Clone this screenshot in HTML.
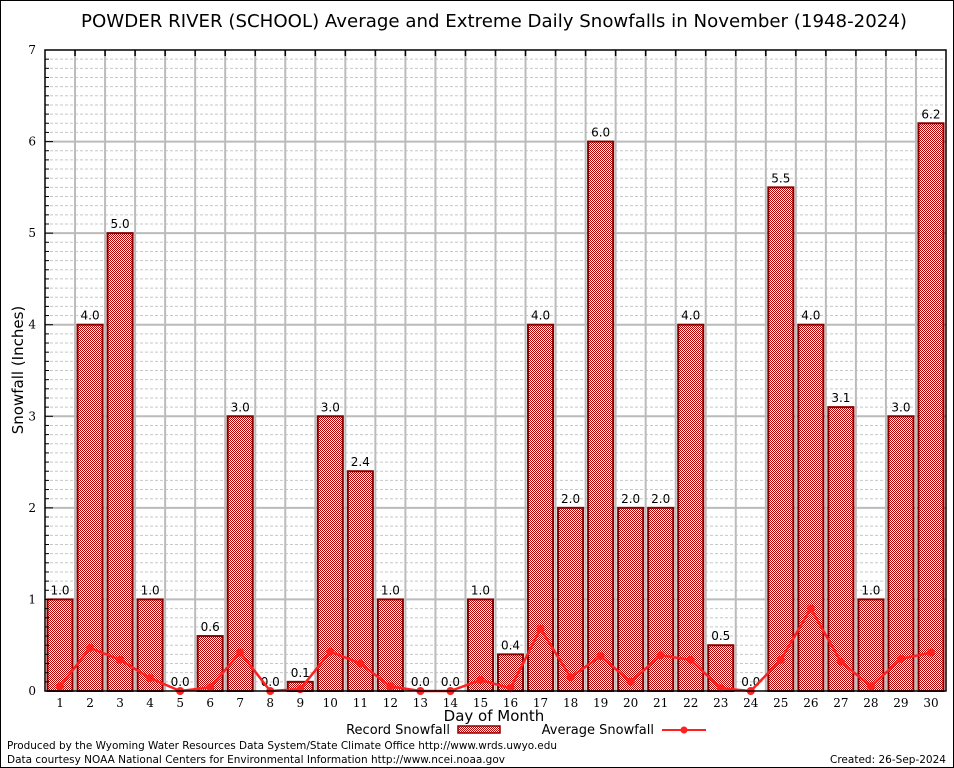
<!DOCTYPE html>
<html><head><meta charset="utf-8"><style>
html,body{margin:0;padding:0;background:#fff}
svg{display:block}
text{font-family:"DejaVu Sans","Liberation Sans",sans-serif}
.serif{font-family:"DejaVu Serif","Liberation Serif",serif}
</style></head><body>
<svg id="chart" width="954" height="768" viewBox="0 0 954 768">
<defs>
<pattern id="hatch" width="2" height="2" patternUnits="userSpaceOnUse">
<rect width="2" height="2" fill="#fff"/><rect width="1" height="1" fill="#b80000"/><rect x="1" y="1" width="1" height="1" fill="#b80000"/>
</pattern>
</defs>
<rect x="0.5" y="0.5" width="953" height="767" fill="#fff" stroke="#000"/>
<text x="494" y="27" font-size="18" text-anchor="middle" textLength="826" lengthAdjust="spacingAndGlyphs">POWDER RIVER (SCHOOL) Average and Extreme Daily Snowfalls in November (1948-2024)</text>
<g id="grid"></g>
<g id="bars"></g>
<g id="avg"></g>
<g id="axes"></g>
<text transform="translate(23,370) rotate(-90)" font-size="15" text-anchor="middle">Snowfall (Inches)</text>
<text x="494" y="721" font-size="15" text-anchor="middle">Day of Month</text>
<g>
<text x="450" y="734" font-size="13" text-anchor="end">Record Snowfall</text>
<rect x="458" y="726" width="42" height="7" fill="url(#hatch)" stroke="#8b0000" stroke-width="1.5"/>
<text x="654" y="734" font-size="13" text-anchor="end">Average Snowfall</text>
<line x1="662" y1="730" x2="706" y2="730" stroke="#ff2020" stroke-width="2"/>
<circle cx="684" cy="730" r="3.5" fill="#ff2020"/>
</g>
<text x="7" y="749" font-size="11" textLength="550" lengthAdjust="spacingAndGlyphs">Produced by the Wyoming Water Resources Data System/State Climate Office http://www.wrds.uwyo.edu</text>
<text x="7" y="763" font-size="11" textLength="498" lengthAdjust="spacingAndGlyphs">Data courtesy NOAA National Centers for Environmental Information http://www.ncei.noaa.gov</text>
<text x="946" y="763" font-size="11" text-anchor="end" textLength="116" lengthAdjust="spacingAndGlyphs">Created: 26-Sep-2024</text>
</svg>
<script>
const days=[1,2,3,4,5,6,7,8,9,10,11,12,13,14,15,16,17,18,19,20,21,22,23,24,25,26,27,28,29,30];
const records=[1.0,4.0,5.0,1.0,0.0,0.6,3.0,0.0,0.1,3.0,2.4,1.0,0.0,0.0,1.0,0.4,4.0,2.0,6.0,2.0,2.0,4.0,0.5,0.0,5.5,4.0,3.1,1.0,3.0,6.2];
const averages=[0.05,0.47,0.34,0.14,0.0,0.04,0.42,0.0,0.02,0.43,0.30,0.05,0.0,0.0,0.12,0.03,0.68,0.15,0.38,0.10,0.39,0.34,0.03,0.0,0.34,0.90,0.32,0.05,0.35,0.42];
const yTicks=[0,1,2,3,4,5,6,7];
const NS='http://www.w3.org/2000/svg';
const L=45,R=946,T=50,B=691,YMAX=7;
const xs=d=>L+(d-0.5)*(R-L)/30;
const ys=v=>B-v*(B-T)/YMAX;
function mk(tag,attrs,parent){const e=document.createElementNS(NS,tag);for(const k in attrs)e.setAttribute(k,attrs[k]);parent.appendChild(e);return e;}
const grid=document.getElementById('grid'),bars=document.getElementById('bars'),avg=document.getElementById('avg'),axes=document.getElementById('axes');
for(let i=1;i<YMAX*10;i++){if(i%10===0)continue;const l=mk('line',{x1:L,x2:R,y1:ys(i/10),y2:ys(i/10),stroke:'#c8c8c8','stroke-dasharray':'3,2','stroke-width':1},grid);

}
for(let i=1;i<YMAX;i++){const l=mk('line',{x1:L,x2:R,y1:ys(i),y2:ys(i),stroke:'#bbb','stroke-width':2},grid);

}
for(let d=1;d<30;d++){const x=L+d*(R-L)/30;const l=mk('line',{x1:x,x2:x,y1:T,y2:B,stroke:'#bbb','stroke-width':2},grid);


const t=mk('line',{x1:x,x2:x,y1:T,y2:T+6,stroke:'#000','stroke-width':1.5},axes);

}
const bw=(R-L)/30-5;
days.forEach((d,i)=>{const v=records[i];
if(v>0){const r=mk('rect',{x:xs(d)-bw/2,y:ys(v),width:bw,height:B-ys(v),fill:'url(#hatch)',stroke:'#8b0000','stroke-width':2},bars);

}
const t=mk('text',{x:xs(d),y:ys(v)-5,'font-size':12,'text-anchor':'middle'},bars);t.textContent=v.toFixed(1);


const xl=mk('text',{x:xs(d),y:707,'font-size':12,'text-anchor':'middle',class:'serif'},axes);xl.textContent=d;

});
const pl=mk('polyline',{points:days.map((d,i)=>xs(d)+','+ys(averages[i])).join(' '),fill:'none',stroke:'#ff2020','stroke-width':2.5},avg);


days.forEach((d,i)=>{const c=mk('circle',{cx:xs(d),cy:ys(averages[i]),r:4,fill:'#ff2020'},avg);

});
yTicks.forEach(v=>{const t=mk('text',{x:36,y:ys(v)+4,'font-size':12,'text-anchor':'end',class:'serif'},axes);t.textContent=v;

});
for(let i=1;i<YMAX*10;i++){const len=i%10===0?8:4;const t=mk('line',{x1:L,x2:L+len,y1:ys(i/10),y2:ys(i/10),stroke:'#000','stroke-width':1},axes);

}
const fr=mk('rect',{x:L,y:T,width:R-L,height:B-T,fill:'none',stroke:'#000','stroke-width':1.5},axes);


</script>
</body></html>
